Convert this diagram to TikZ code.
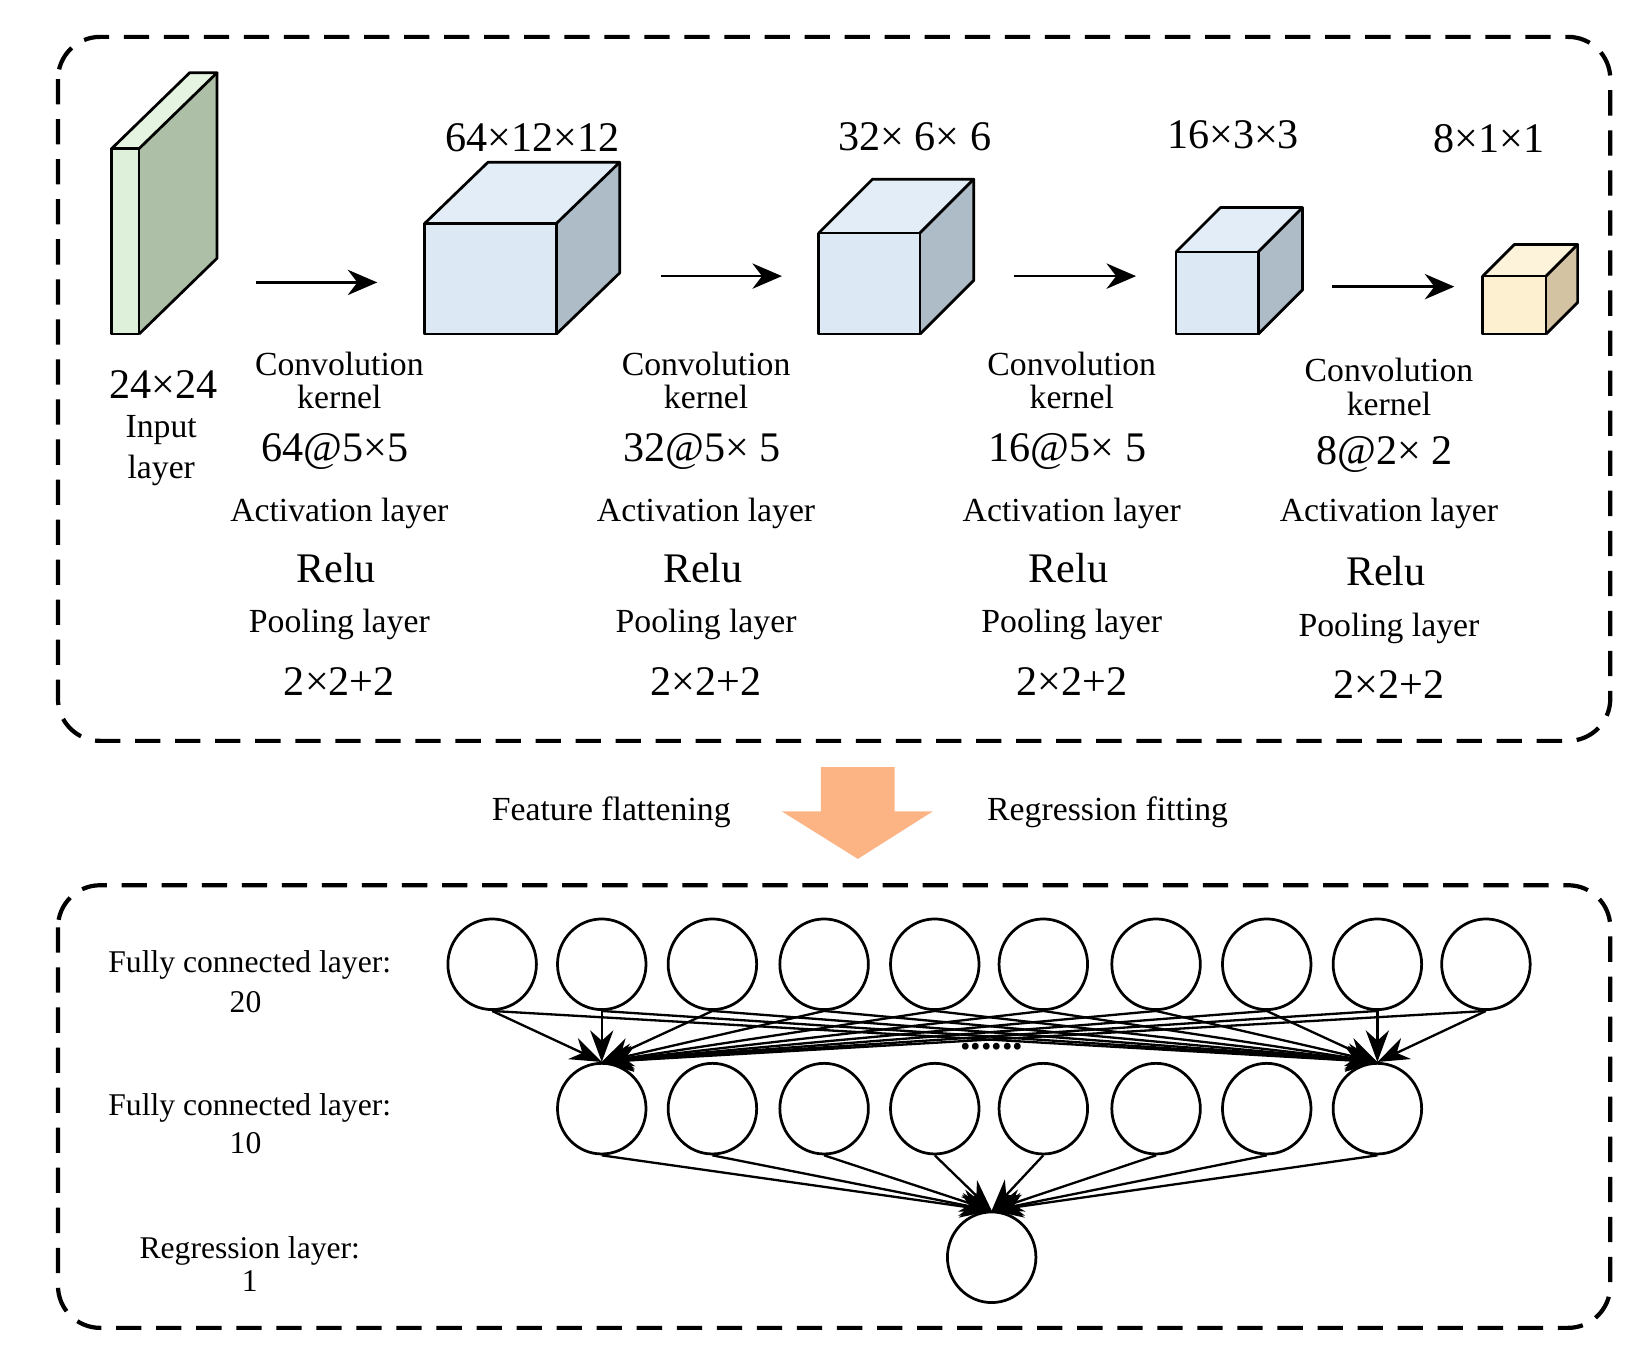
\documentclass[tikz,border=0pt]{standalone}
\usepackage{fontspec}
\setmainfont{Liberation Serif}
\usetikzlibrary{arrows.meta,shapes.geometric}
\begin{document}
\begin{tikzpicture}[x=1pt,y=-1pt,
  dbox/.style={draw,line width=4pt,dash pattern=on 24pt off 14pt,rounded corners=40pt},
  face/.style={draw,line width=2.6pt,line join=round},
  lab/.style={font=\fontsize{32}{34}\selectfont},
  big/.style={font=\fontsize{40}{42}\selectfont},
  sm/.style={font=\fontsize{30}{32}\selectfont},
  neu/.style={draw,line width=2.6pt,ellipse,minimum width=84pt,minimum height=86pt,inner sep=0pt},
  flow/.style={line width=2.6pt,-{Stealth[length=28pt,width=24pt]}},
  conn/.style={line width=2.2pt,-{Stealth[length=30pt,width=22pt]}},
  ]
\useasboundingbox (0,0) rectangle (1560,1287);
\draw[dbox] (55,35) rectangle (1528,703);
\draw[dbox] (55,840) rectangle (1528,1260);
\newcommand{\mycube}[8]{% x1 y1 x2 y2 dx dy frontcol sidecol
  \fill[#7] (#1,#2) rectangle (#3,#4);
  \fill[#7!80!white] (#1,#2)--++(#5,-#6)--++(#3-#1,0)--(#3,#2)--cycle;
  \fill[#8] (#3,#2)--++(#5,-#6)--++(0,#4-#2)--(#3,#4)--cycle;
  \draw[face] (#1,#2) rectangle (#3,#4);
  \draw[face] (#1,#2)--++(#5,-#6)--++(#3-#1,0)--(#3,#2);
  \draw[face] (#3+#5,#2-#6)--++(0,#4-#2)--(#3,#4);
}
\definecolor{gf}{HTML}{DFF0DA}\definecolor{gs}{HTML}{ADBFA7}
\definecolor{bf}{HTML}{DCE9F5}\definecolor{bs}{HTML}{AEBCC8}
\definecolor{yf}{HTML}{FDF0D0}\definecolor{ys}{HTML}{D4C3A2}
\definecolor{org}{HTML}{FDB485}
\mycube{106}{141}{132}{317}{74}{72}{gf}{gs}
\mycube{403}{212}{528}{317}{60}{58}{bf}{bs}
\mycube{777}{221}{873}{317}{51}{51}{bf}{bs}
\mycube{1116}{239}{1194}{317}{42}{42}{bf}{bs}
\mycube{1407}{262}{1467}{317}{30}{30}{yf}{ys}
\coordinate (a1s) at (243,268); \coordinate (a1e) at (358,268);
\coordinate (a2s) at (627,262); \coordinate (a2e) at (742,262);
\coordinate (a3s) at (962,262); \coordinate (a3e) at (1078,262);
\coordinate (a4s) at (1264,272); \coordinate (a4e) at (1380,272);
\foreach \i in {1,...,4}{\draw[flow] (a\i s)--(a\i e);}
\node[big] (d1) at (505,131) {64×12×12};
\node[big] (d2) at (868,130) {32× 6× 6};
\node[big] (d3) at (1170,128) {16×3×3};
\node[big] (d4) at (1413,132) {8×1×1};
\node[big] (in1) at (155,365) {24×24};
\node[lab,inner sep=0pt] (in2) at (153,408) {Input};
\node[lab,inner sep=0pt] (in3) at (153,446) {layer};
\foreach \x/\k/\o [count=\i] in {322/64@5×5/0,670/32@5× 5/0,1017/16@5× 5/0,1318/8@2× 2/3}{
  \node[lab,inner sep=0pt] (c\i) at (\x,345+\o*2) {Convolution};
  \node[lab,inner sep=0pt] (k\i) at (\x,377+\o*2) {kernel};
  \node[big] (n\i) at (\x-4,428+\o) {\k};
  \node[lab] (ac\i) at (\x,487) {Activation layer};
  \node[big] (r\i) at (\x-3,539+\o) {Relu};
  \node[lab] (p\i) at (\x,593+\o) {Pooling layer};
  \node[big] (q\i) at (\x,647+\o) {2×2+2};
}
\fill[org] (779,728)--(849,728)--(849,770)--(885,770)--(814,815)--(742,770)--(779,770)--cycle;
\node[lab] (ff) at (580,771) {Feature flattening};
\node[lab] (rf) at (1051,771) {Regression fitting};
\foreach \x [count=\i] in {467,571,676,782,887,990,1097,1202,1307,1410}
  \node[neu] (u\i) at (\x,915) {};
\foreach \x [count=\i] in {571,676,782,887,990,1097,1202,1307}
  \node[neu] (v\i) at (\x,1052) {};
\node[neu] (o) at (941,1193) {};
\foreach \i in {1,...,10}{\draw[conn] (u\i.south)--(v1.north); \draw[conn] (u\i.south)--(v8.north);}
\foreach \i in {1,...,8}{\draw[conn] (v\i.south)--(o.north);}
\node[font=\bfseries\fontsize{40}{40}\selectfont,inner sep=0pt] (dots) at (941,993) {......};
\node[sm] (f1) at (237,916) {Fully connected layer:};
\node[sm] (f1n) at (233,951) {20};
\node[sm] (f2) at (237,1051) {Fully connected layer:};
\node[sm] (f2n) at (233,1085) {10};
\node[sm] (f3) at (237,1187) {Regression layer:};
\node[sm] (f3n) at (237,1216) {1};
\end{tikzpicture}
\end{document}
